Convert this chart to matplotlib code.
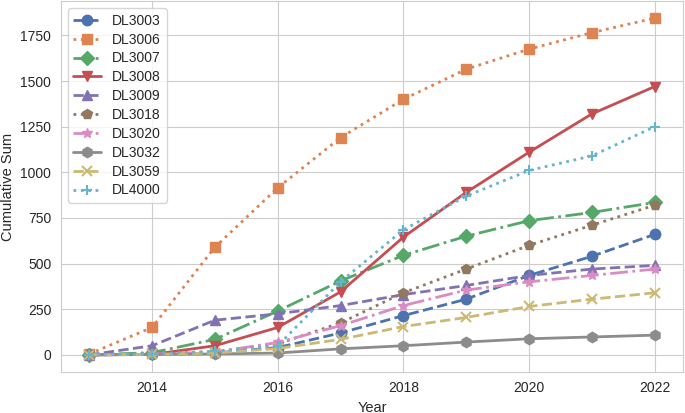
import matplotlib
matplotlib.use("Agg")
import matplotlib.pyplot as plt
import seaborn as sns

sns.set_style("whitegrid")
plt.rcParams['font.family'] = ['Liberation Sans', 'DejaVu Sans']

years = [2013, 2014, 2015, 2016, 2017, 2018, 2019, 2020, 2021, 2022]

dl3003 = [0, 3, 10, 40, 120, 215, 305, 435, 540, 660]
dl3006 = [5, 150, 590, 915, 1190, 1400, 1565, 1675, 1765, 1845]
dl3007 = [0, 12, 85, 240, 405, 545, 650, 735, 780, 835]
dl3008 = [0, 2, 50, 150, 345, 645, 890, 1110, 1320, 1470]
dl3009 = [0, 50, 190, 225, 270, 330, 380, 435, 470, 490]
dl3018 = [0, 5, 15, 60, 175, 340, 470, 600, 710, 820]
dl3020 = [0, 5, 15, 68, 160, 270, 355, 400, 435, 470]
dl3032 = [0, 2, 5, 10, 33, 50, 70, 88, 98, 108]
dl3059 = [0, 3, 10, 35, 85, 155, 205, 265, 305, 340]
dl4000 = [0, 5, 20, 50, 400, 685, 870, 1010, 1090, 1250]

series = [
    ("DL3003", dl3003), ("DL3006", dl3006), ("DL3007", dl3007),
    ("DL3008", dl3008), ("DL3009", dl3009), ("DL3018", dl3018),
    ("DL3020", dl3020), ("DL3032", dl3032), ("DL3059", dl3059),
    ("DL4000", dl4000),
]

colors = sns.color_palette("deep", 10)
markers = ['o', 's', 'D', 'v', '^', 'p', '*', 'h', 'x', '+']
styles = ['--', ':', '-.', '-']

fig, ax = plt.subplots(figsize=(6.85, 4.13), dpi=100)
for i, (name, vals) in enumerate(series):
    ax.plot(years, vals, linestyle=styles[i % 4], marker=markers[i],
            color=colors[i], linewidth=2, markersize=7.5,
            markeredgewidth=1.5 if markers[i] in ('x', '+') else 1,
            label=name)

ax.set_xlabel("Year", fontsize=10.5)
ax.set_ylabel("Cumulative Sum", fontsize=10.5)
ax.set_xticks([2014, 2016, 2018, 2020, 2022])
ax.set_yticks([0, 250, 500, 750, 1000, 1250, 1500, 1750])
ax.tick_params(labelsize=10)
ax.legend(loc="upper left", fontsize=10, labelspacing=0.35)

fig.subplots_adjust(left=0.089, right=0.997, top=0.997, bottom=0.1)
fig.savefig("out.png", dpi=100)
